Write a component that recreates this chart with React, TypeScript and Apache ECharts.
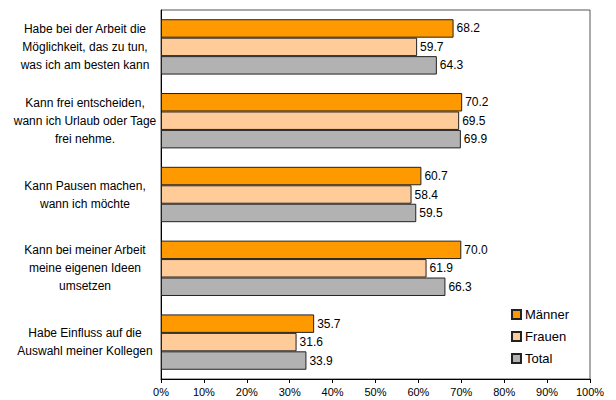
import React, { useEffect, useRef } from "react";
import * as echarts from "echarts";

const categories = [
  "Habe bei der Arbeit die\nMöglichkeit, das zu tun,\nwas ich am besten kann",
  "Kann frei entscheiden,\nwann ich Urlaub oder Tage\nfrei nehme.",
  "Kann Pausen machen,\nwann ich möchte",
  "Kann bei meiner Arbeit\nmeine eigenen Ideen\numsetzen",
  "Habe Einfluss auf die\nAuswahl meiner Kollegen",
];
const maenner = [68.2, 70.2, 60.7, 70.0, 35.7];
const frauen = [59.7, 69.5, 58.4, 61.9, 31.6];
const total = [64.3, 69.9, 59.5, 66.3, 33.9];
const seriesNames = ["Männer", "Frauen", "Total"];
const colors = ["#FF9900", "#FFCC99", "#B2B2B2"];

export default function App() {
  const ref = useRef<HTMLDivElement>(null);
  useEffect(() => {
    const chart = echarts.init(ref.current!, undefined, { renderer: "svg" });
    const font = "Arial, 'Liberation Sans', sans-serif";
    const data = [maenner, frauen, total];
    chart.setOption({
      animation: false,
      textStyle: { fontFamily: font },
      grid: {
        left: 161,
        right: 26,
        top: 10,
        bottom: 21,
        show: true,
        borderColor: "#555",
        borderWidth: 1,
      },
      legend: {
        orient: "vertical",
        left: 506,
        top: 303,
        itemWidth: 9,
        itemHeight: 9,
        itemGap: 9,
        icon: "rect",
        textStyle: { fontSize: 13, color: "#000", fontFamily: font, padding: [0, 0, 0, -1] },
        data: seriesNames,
      },
      xAxis: {
        type: "value",
        min: 0,
        max: 100,
        interval: 10,
        axisLine: { show: true, lineStyle: { color: "#000" } },
        axisTick: { show: true, length: 4, lineStyle: { color: "#000" } },
        axisLabel: {
          formatter: "{value}%",
          fontSize: 11,
          color: "#000",
          margin: 7,
          fontFamily: font,
        },
        splitLine: { show: false },
      },
      yAxis: {
        type: "category",
        inverse: true,
        data: categories,
        axisLine: { show: true, lineStyle: { color: "#000" } },
        axisTick: { show: false },
        axisLabel: {
          fontSize: 12,
          color: "#000",
          align: "center",
          margin: 76,
          lineHeight: 18,
          fontFamily: font,
        },
      },
      series: seriesNames.map((name, i) => ({
        name,
        type: "bar",
        data: data[i],
        barGap: "0%",
        barCategoryGap: "25%",
        itemStyle: { color: colors[i], borderColor: "#222", borderWidth: 1 },
        label: {
          show: true,
          position: "right",
          distance: 3,
          fontSize: 12,
          color: "#000",
          fontFamily: font,
          formatter: (p: any) => Number(p.value).toFixed(1),
        },
      })),
    });
    return () => chart.dispose();
  }, []);
  return (
    <div
      ref={ref}
      style={{ position: "fixed", left: 0, top: 0, width: 616, height: 400, background: "#fff" }}
    />
  );
}
